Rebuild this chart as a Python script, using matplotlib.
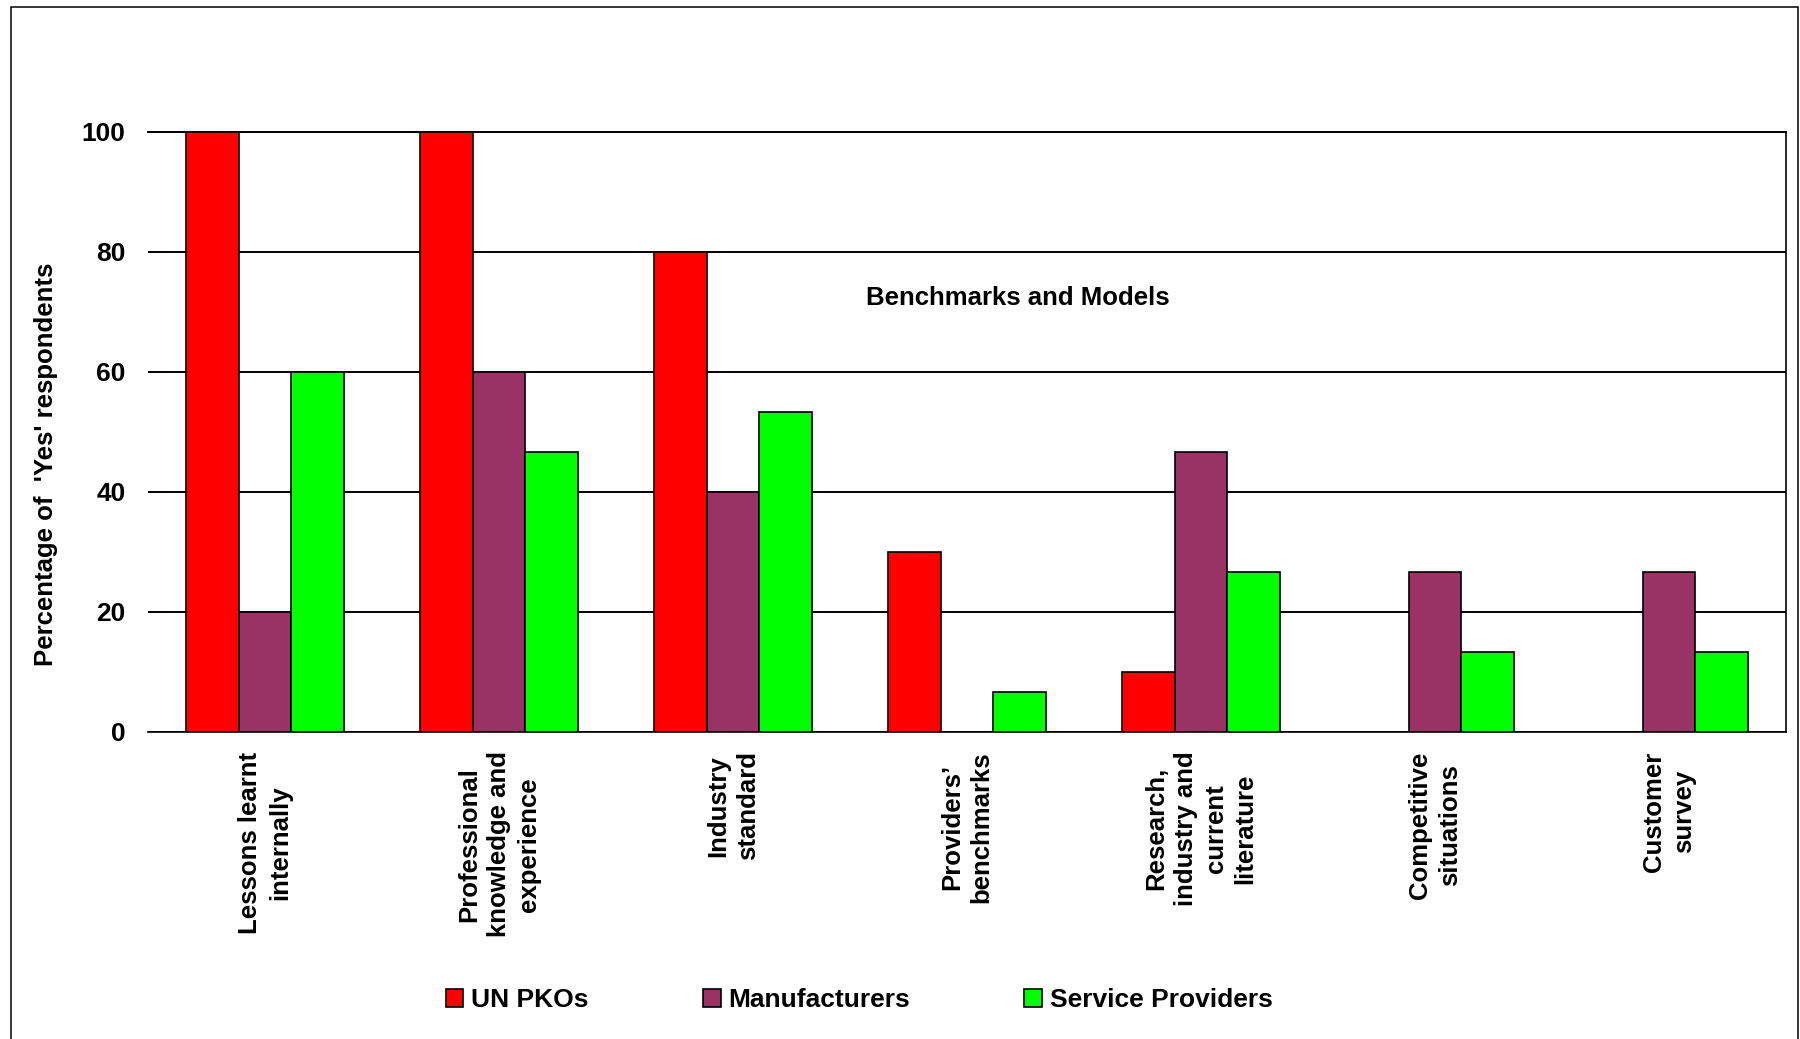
import matplotlib
matplotlib.use("Agg")
import matplotlib.pyplot as plt
import matplotlib.patches as mpatches
import numpy as np

######## Data ########
categories = ["Lessons learnt\ninternally",
              "Professional\nknowledge and\nexperience",
              "Industry\nstandard",
              "Providers\u2019\nbenchmarks",
              "Research,\nindustry and\ncurrent\nliterature",
              "Competitive\nsituations",
              "Customer\nsurvey"]
series_names = ["UN PKOs", "Manufacturers", "Service Providers"]
un_pkos = [100, 100, 80, 30, 10, 0, 0]
manufacturers = [20, 60, 40, 0, 46.67, 26.67, 26.67]
service_providers = [60, 46.67, 53.33, 6.67, 26.67, 13.33, 13.33]
y_ticks = [0, 20, 40, 60, 80, 100]
series_colors = ["#FF0000", "#993366", "#00FF00"]
######################

plt.rcParams['font.family'] = ['Liberation Sans', 'DejaVu Sans']
plt.rcParams['font.weight'] = 'bold'

fig = plt.figure(figsize=(18, 10.39), dpi=100)
ax = fig.add_axes([0.0822, 0.2955, 0.91, 0.5775])

x = np.arange(len(categories))
w = 0.226
all_series = [un_pkos, manufacturers, service_providers]
for i in range(0, len(all_series)):
    ax.bar(x + (i - 1) * w, all_series[i], width=w, color=series_colors[i],
           edgecolor='black', linewidth=1.2, label=series_names[i], zorder=3)

ax.set_xlim(-0.5, len(categories) - 0.5)
ax.set_ylim(0, 100)
ax.set_yticks(y_ticks)
ax.set_yticklabels([str(v) for v in y_ticks], fontsize=19, fontweight='bold')
ax.set_xticks(x)
ax.set_xticklabels(categories, rotation=90, fontsize=18.5, fontweight='bold',
                   va='top', ha='center', multialignment='center', linespacing=1.3)
ax.tick_params(axis='x', length=0, pad=14)
ax.tick_params(axis='y', length=0, pad=16)

# horizontal grid in black, bars on top
ax.yaxis.grid(True, color='black', linewidth=1.4, zorder=0)
ax.set_axisbelow(True)
ax.spines['left'].set_visible(False)
ax.spines['top'].set_linewidth(1.4)
ax.spines['right'].set_linewidth(1.2)
ax.spines['bottom'].set_linewidth(1.2)

ax.text(3.218, 72.3, "Benchmarks and Models", ha='center', va='center',
        fontsize=18.5, fontweight='bold')

fig.text(46 / 1800, 1 - 464 / 1039, "Percentage of  'Yes' respondents",
         rotation=90, ha='center', va='center', fontsize=18.5, fontweight='bold')

handles = [mpatches.Patch(facecolor=c, edgecolor='black', linewidth=1.2) for c in series_colors]
fig.legend(handles, series_names, loc='center', bbox_to_anchor=(0.4772, 0.0375),
           ncol=3, frameon=False, handlelength=0.68, handleheight=0.68,
           handletextpad=0.27, columnspacing=4.35, prop={'weight': 'bold', 'size': 19})

# outer border round the whole chart
fig.add_artist(mpatches.Rectangle((11 / 1800, -0.02), 1787 / 1800, 1.02 - 7 / 1039,
                                  transform=fig.transFigure, fill=False,
                                  edgecolor='black', linewidth=1.1))

plt.savefig("out.png", dpi=100)
